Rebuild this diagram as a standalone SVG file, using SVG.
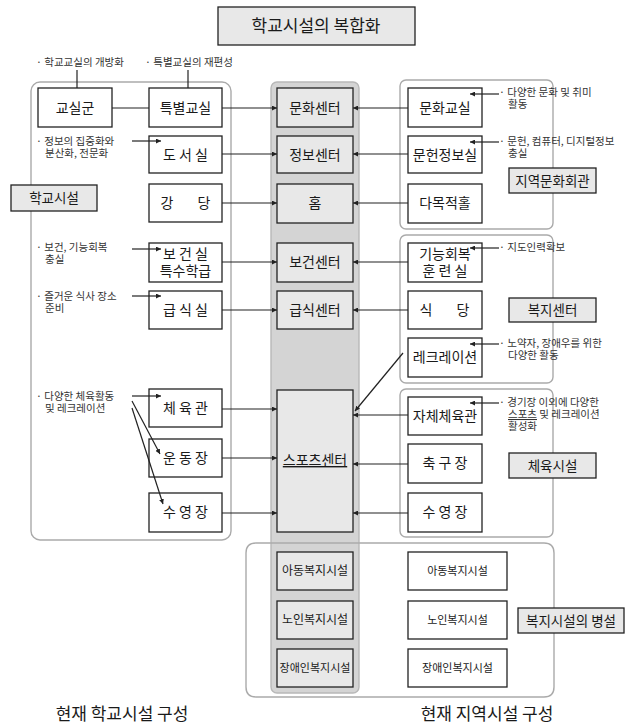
<svg xmlns="http://www.w3.org/2000/svg" width="637" height="724" viewBox="0 0 637 724">
<style>
text{font-family:"Noto Sans CJK KR","Noto Sans",sans-serif;fill:#1a1a1a}
.box{fill:#fff;stroke:#222;stroke-width:1.3}
.gbox{fill:#e8e8e8;stroke:#222;stroke-width:1.3}
.cont{fill:none;stroke:#aaa;stroke-width:1.4}
.col{fill:#d4d4d4;stroke:#b8b8b8;stroke-width:1.4}
.t{font-size:14px;text-anchor:middle}
.ts{font-size:12px;text-anchor:middle}
.tx{font-size:11px;text-anchor:middle}
.lab{font-size:13.5px;text-anchor:middle}
.big{font-size:17px;text-anchor:middle}
.ann{font-size:10.5px;fill:#333}
.c{stroke:#222;stroke-width:1.2;fill:none}
.ca{stroke:#222;stroke-width:1.2;fill:none;marker-end:url(#ah)}
</style>
<defs>
<marker id="ah" markerWidth="5" markerHeight="5" refX="5" refY="2.5" orient="auto" markerUnits="userSpaceOnUse">
<path d="M0,0 L5,2.5 L0,5 z" fill="#222"/>
</marker>
</defs>
<rect width="637" height="724" fill="#fff"/>

<g id="title"><rect x="218" y="7" width="197" height="38" class="gbox"/><text x="316" y="32" class="big">학교시설의 복합화</text></g>

<g id="containers">
<rect x="31" y="82" width="200" height="458" rx="9" class="cont"/>
<rect x="271" y="82" width="88" height="611" rx="6" class="col"/>
<rect x="400" y="80" width="153" height="149" rx="6" class="cont"/>
<rect x="400" y="235" width="153" height="148" rx="6" class="cont"/>
<rect x="400" y="389" width="153" height="148" rx="6" class="cont"/>
<path d="M256,543 L544,543 Q554,543 554,553 L554,687 Q554,697 544,697 L256,697 Q246,697 246,687 L246,553 Q246,543 256,543 Z" class="cont"/>
</g>

<g id="labels">
<g id="lab-school"><rect x="11" y="185" width="86" height="26" class="gbox"/><text x="54" y="203" class="lab">학교시설</text></g>
<g id="lab-culture"><rect x="509" y="168" width="87" height="25" class="gbox"/><text x="552.5" y="185.5" class="lab">지역문화회관</text></g>
<g id="lab-welfare"><rect x="509" y="298" width="87" height="24" class="gbox"/><text x="552.5" y="315" class="lab">복지센터</text></g>
<g id="lab-sports"><rect x="509" y="453" width="87" height="25" class="gbox"/><text x="552.5" y="470.5" class="lab">체육시설</text></g>
<g id="lab-annex"><rect x="518" y="608" width="106" height="25" class="gbox"/><text x="571" y="625.5" class="lab">복지시설의 병설</text></g>
</g>

<g id="left-nodes">
<g id="n-classroom"><rect x="38" y="88" width="74" height="39" class="box"/><text x="75" y="113" class="t">교실군</text></g>
<g id="n-special"><rect x="149" y="88" width="73" height="39" class="box"/><text x="185.5" y="113" class="t">특별교실</text></g>
<g id="n-library"><rect x="149" y="136" width="73" height="37" class="box"/><text x="185.5" y="160" class="t" xml:space="preserve">도 서 실</text></g>
<g id="n-hall"><rect x="149" y="184" width="73" height="38" class="box"/><text x="167" y="208" class="t">강</text><text x="204" y="208" class="t">당</text></g>
<g id="n-health"><rect x="149" y="243" width="73" height="39" class="box"/><text class="t" xml:space="preserve"><tspan x="185.5" y="259">보 건 실</tspan><tspan x="185.5" y="276">특수학급</tspan></text></g>
<g id="n-cafeteria"><rect x="149" y="291" width="73" height="38" class="box"/><text x="185.5" y="315" class="t" xml:space="preserve">급 식 실</text></g>
<g id="n-gym"><rect x="149" y="389" width="73" height="38" class="box"/><text x="185.5" y="413" class="t" xml:space="preserve">체 육 관</text></g>
<g id="n-field"><rect x="149" y="439" width="73" height="38" class="box"/><text x="185.5" y="463" class="t" xml:space="preserve">운 동 장</text></g>
<g id="n-pool"><rect x="149" y="493" width="73" height="39" class="box"/><text x="185.5" y="517" class="t" xml:space="preserve">수 영 장</text></g>
</g>

<g id="mid-nodes">
<g id="m-culture"><rect x="277" y="88" width="76" height="39" class="gbox"/><text x="315" y="113" class="t">문화센터</text></g>
<g id="m-info"><rect x="277" y="136" width="76" height="37" class="gbox"/><text x="315" y="160" class="t">정보센터</text></g>
<g id="m-home"><rect x="277" y="184" width="76" height="39" class="gbox"/><text x="315" y="208" class="t">홈</text></g>
<g id="m-health"><rect x="277" y="243" width="76" height="39" class="gbox"/><text x="315" y="267" class="t">보건센터</text></g>
<g id="m-cafeteria"><rect x="277" y="291" width="76" height="38" class="gbox"/><text x="315" y="315" class="t">급식센터</text></g>
<g id="m-sports"><rect x="277" y="390" width="76" height="142" class="gbox"/><text x="315" y="465" class="t" text-decoration="underline">스포츠센터</text></g>
<g id="m-child"><rect x="277" y="552" width="76" height="38" class="gbox"/><text x="315" y="575" class="ts">아동복지시설</text></g>
<g id="m-elder"><rect x="277" y="601" width="76" height="38" class="gbox"/><text x="315" y="624" class="ts">노인복지시설</text></g>
<g id="m-disabled"><rect x="277" y="649" width="76" height="38" class="gbox"/><text x="315" y="672" class="tx">장애인복지시설</text></g>
</g>

<g id="right-nodes">
<g id="r-culture"><rect x="408" y="88" width="74" height="39" class="box"/><text x="445" y="113" class="t">문화교실</text></g>
<g id="r-info"><rect x="408" y="136" width="74" height="37" class="box"/><text x="445" y="160" class="t">문헌정보실</text></g>
<g id="r-hall"><rect x="408" y="184" width="74" height="39" class="box"/><text x="445" y="208" class="t">다목적홀</text></g>
<g id="r-rehab"><rect x="408" y="243" width="74" height="39" class="box"/><text class="t" xml:space="preserve"><tspan x="445" y="259">기능회복</tspan><tspan x="445" y="276">훈 련 실</tspan></text></g>
<g id="r-dining"><rect x="408" y="291" width="74" height="38" class="box"/><text x="426" y="315" class="t">식</text><text x="463" y="315" class="t">당</text></g>
<g id="r-rec"><rect x="408" y="338" width="74" height="39" class="box"/><text x="445" y="362" class="t">레크레이션</text></g>
<g id="r-gym"><rect x="408" y="397" width="74" height="38" class="box"/><text x="445" y="421" class="t">자체체육관</text></g>
<g id="r-soccer"><rect x="408" y="444" width="74" height="39" class="box"/><text x="445" y="468" class="t" xml:space="preserve">축 구 장</text></g>
<g id="r-pool"><rect x="408" y="493" width="74" height="39" class="box"/><text x="445" y="517" class="t" xml:space="preserve">수 영 장</text></g>
<g id="r-child"><rect x="408" y="552" width="99" height="38" class="box"/><text x="457.5" y="575" class="tx">아동복지시설</text></g>
<g id="r-elder"><rect x="408" y="601" width="99" height="38" class="box"/><text x="457.5" y="624" class="tx">노인복지시설</text></g>
<g id="r-disabled"><rect x="408" y="649" width="99" height="38" class="box"/><text x="457.5" y="672" class="tx">장애인복지시설</text></g>
</g>

<g id="annotations">
<text x="36" y="66" class="ann">· 학교교실의 개방화</text>
<text x="145" y="66" class="ann">· 특별교실의 재편성</text>
<text class="ann"><tspan x="36" y="145">· 정보의 집중화와</tspan><tspan x="45" y="157">분산화, 전문화</tspan></text>
<text class="ann"><tspan x="36" y="251">· 보건, 기능회복</tspan><tspan x="45" y="263">충실</tspan></text>
<text class="ann"><tspan x="36" y="300">· 즐거운 식사 장소</tspan><tspan x="45" y="312">준비</tspan></text>
<text class="ann"><tspan x="36" y="400">· 다양한 체육활동</tspan><tspan x="45" y="412">및 레크레이션</tspan></text>
<text class="ann"><tspan x="499" y="96">· 다양한 문화 및 취미</tspan><tspan x="508" y="108">활동</tspan></text>
<text class="ann"><tspan x="499" y="145">· 문헌, 컴퓨터, 디지털정보</tspan><tspan x="508" y="157">충실</tspan></text>
<text x="499" y="251" class="ann">· 지도인력확보</text>
<text class="ann"><tspan x="499" y="347">· 노약자, 장애우를 위한</tspan><tspan x="508" y="359">다양한 활동</tspan></text>
<text class="ann"><tspan x="499" y="406">· 경기장 이외에 다양한</tspan><tspan x="508" y="418" text-decoration="underline">스포츠</tspan><tspan> 및 레크레이션</tspan><tspan x="508" y="430">활성화</tspan></text>
</g>

<g id="connectors">
<line x1="77" y1="70" x2="77" y2="88" class="c"/>
<line x1="188" y1="70" x2="188" y2="88" class="c"/>
<line x1="112" y1="108" x2="149" y2="108" class="c"/>
<line x1="132" y1="141" x2="161" y2="141" class="ca"/>
<line x1="132" y1="249" x2="161" y2="249" class="ca"/>
<line x1="132" y1="296" x2="161" y2="296" class="ca"/>
<line x1="132" y1="396" x2="161" y2="396" class="ca"/>
<line x1="132" y1="401" x2="160" y2="454" class="ca"/>
<line x1="132" y1="408" x2="163" y2="504" class="ca"/>
<line x1="222" y1="108" x2="277" y2="108" class="ca"/>
<line x1="222" y1="154" x2="277" y2="154" class="ca"/>
<line x1="222" y1="203" x2="277" y2="203" class="ca"/>
<line x1="222" y1="262" x2="277" y2="262" class="ca"/>
<line x1="222" y1="310" x2="277" y2="310" class="ca"/>
<line x1="222" y1="409" x2="277" y2="409" class="ca"/>
<line x1="222" y1="458" x2="277" y2="458" class="ca"/>
<line x1="222" y1="513" x2="277" y2="513" class="ca"/>
<line x1="408" y1="108" x2="353" y2="108" class="ca"/>
<line x1="408" y1="154" x2="353" y2="154" class="ca"/>
<line x1="408" y1="203" x2="353" y2="203" class="ca"/>
<line x1="408" y1="262" x2="353" y2="262" class="ca"/>
<line x1="408" y1="310" x2="353" y2="310" class="ca"/>
<line x1="403" y1="353" x2="355" y2="411" class="ca"/>
<line x1="408" y1="415" x2="353" y2="415" class="ca"/>
<line x1="408" y1="464" x2="353" y2="464" class="ca"/>
<line x1="408" y1="513" x2="353" y2="513" class="ca"/>
<line x1="499" y1="94" x2="470" y2="94" class="ca"/>
<line x1="499" y1="142" x2="470" y2="142" class="ca"/>
<line x1="499" y1="248" x2="470" y2="248" class="ca"/>
<line x1="499" y1="344" x2="470" y2="344" class="ca"/>
<line x1="499" y1="403" x2="470" y2="403" class="ca"/>
</g>

<g id="footer">
<text x="122" y="720" class="big">현재 학교시설 구성</text>
<text x="487" y="720" class="big">현재 지역시설 구성</text>
</g>
</svg>
